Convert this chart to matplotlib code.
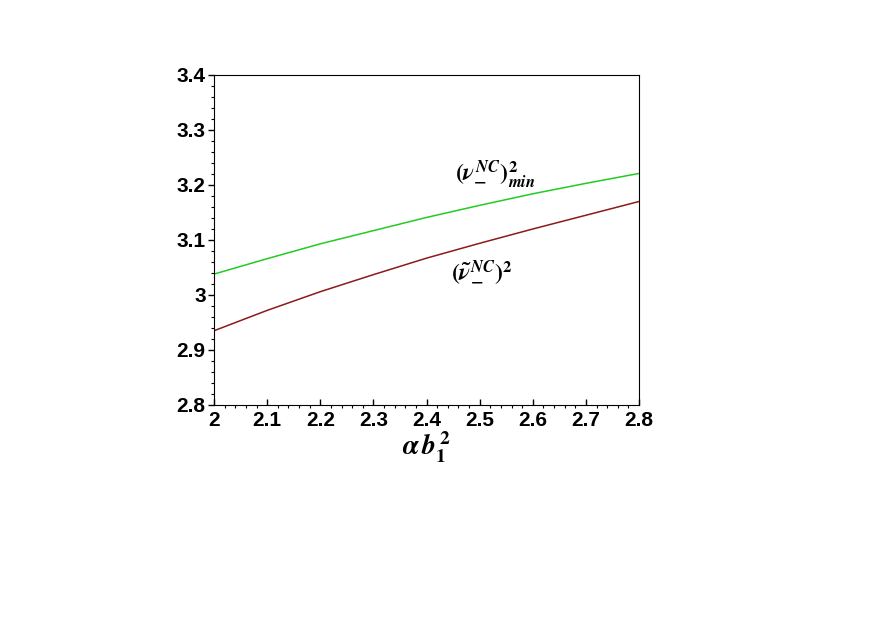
import matplotlib.pyplot as plt
from matplotlib.ticker import AutoMinorLocator

# values
x = [2.0, 2.1, 2.2, 2.3, 2.4, 2.5, 2.6, 2.7, 2.8]
nu_min = [3.038, 3.066, 3.093, 3.117, 3.141, 3.163, 3.184, 3.203, 3.221]
nu_tilde = [2.935, 2.972, 3.006, 3.037, 3.067, 3.094, 3.120, 3.145, 3.170]

plt.rcParams.update({'font.family': 'Liberation Sans', 'font.weight': 'bold',
                     'mathtext.fontset': 'stix'})

fig = plt.figure(figsize=(8.73, 6.28), dpi=100)
ax = fig.add_axes([214 / 873, 1 - 405 / 628, 425 / 873, 330 / 628])

ax.plot(x, nu_min, color='#22cc22', lw=1.1)
ax.plot(x, nu_tilde, color='#8b1a1a', lw=1.1)

ax.text(2.53, 3.218, r'$\boldsymbol{(\nu_{-}^{NC})^{2}_{min}}$', fontsize=17,
        ha='center', va='center')
ax.text(2.505, 3.042, r'$\boldsymbol{(\tilde{\nu}_{-}^{NC})^{2}}$', fontsize=17,
        ha='center', va='center')

ax.set_xlim(2, 2.8)
ax.set_ylim(2.8, 3.4)
ax.set_xticks([2, 2.1, 2.2, 2.3, 2.4, 2.5, 2.6, 2.7, 2.8])
ax.set_xticklabels(['2', '2.1', '2.2', '2.3', '2.4', '2.5', '2.6', '2.7', '2.8'])
ax.set_yticks([2.8, 2.9, 3.0, 3.1, 3.2, 3.3, 3.4])
ax.set_yticklabels(['2.8', '2.9', '3', '3.1', '3.2', '3.3', '3.4'])
ax.xaxis.set_minor_locator(AutoMinorLocator(5))
ax.yaxis.set_minor_locator(AutoMinorLocator(5))
ax.tick_params(axis='both', which='major', labelsize=15, length=4, width=1)
ax.tick_params(axis='both', which='minor', length=2, width=0.8)
ax.tick_params(axis='x', direction='in', pad=4)
ax.tick_params(axis='y', direction='out', pad=2)
for lab in ax.get_xticklabels() + ax.get_yticklabels():
    lab.set_fontweight('bold')

ax.set_xlabel(r'$\boldsymbol{\alpha\, b_{1}^{2}}$', fontsize=20, labelpad=0)

fig.savefig('out.png', dpi=100)
